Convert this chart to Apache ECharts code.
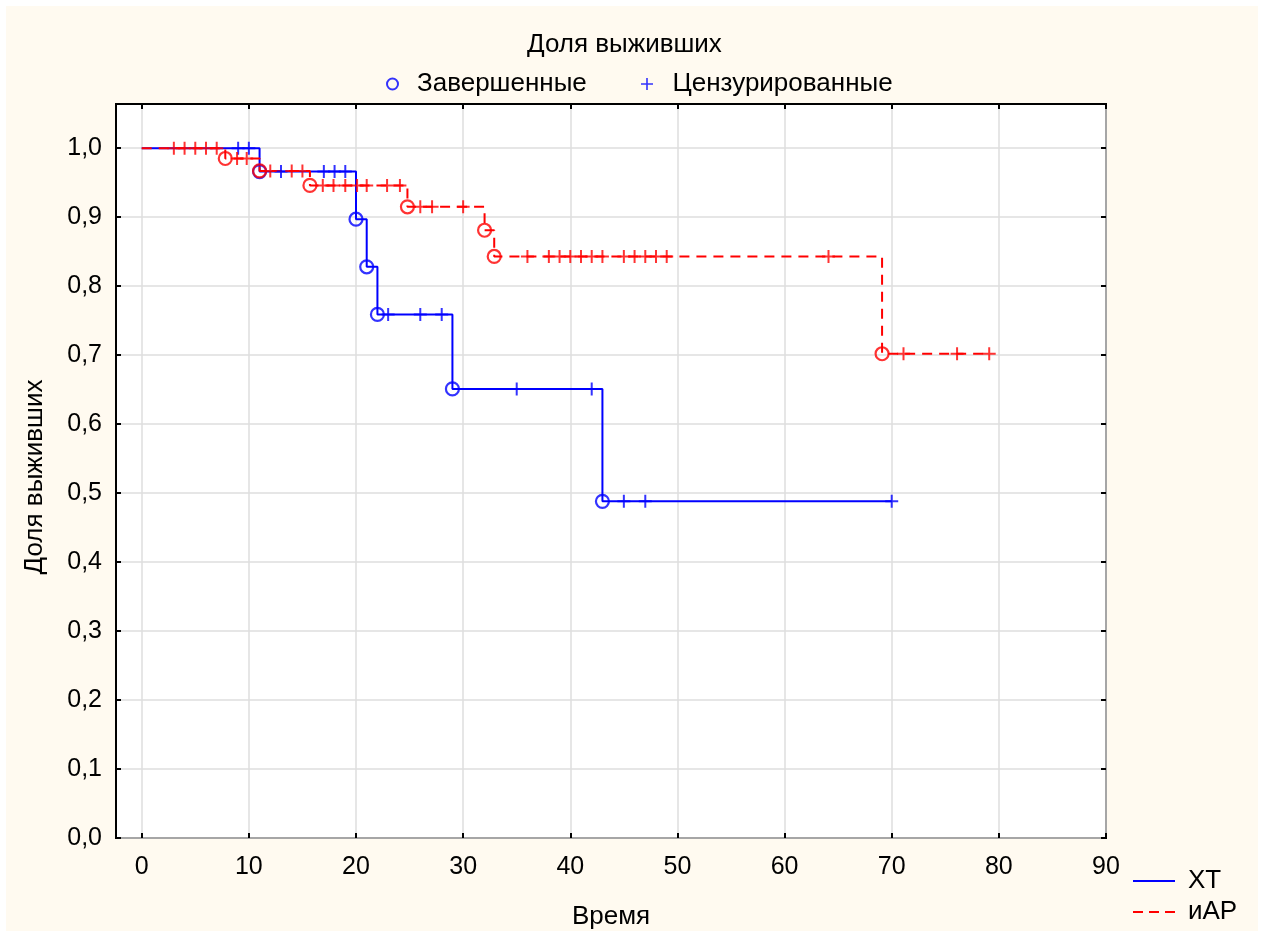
<!DOCTYPE html>
<html>
<head>
<meta charset="utf-8">
<script src="https://cdn.jsdelivr.net/npm/echarts@6/dist/echarts.min.js"></script>
<style>
  html, body { margin: 0; padding: 0; background: #ffffff; }
  #chart { width: 1264px; height: 937px; background: #FFFAF0; box-shadow: inset 0 0 0 6px #ffffff; }
</style>
</head>
<body>
<div id="chart"></div>
<script>
// ---- Data ----
const xTicks = [0, 10, 20, 30, 40, 50, 60, 70, 80, 90];
const yTicks = [0, 0.1, 0.2, 0.3, 0.4, 0.5, 0.6, 0.7, 0.8, 0.9, 1.0];

// ХТ group
const xtEventTimes = [11, 20, 21, 22, 29, 43];
const xtEventSurv  = [0.966, 0.897, 0.828, 0.759, 0.651, 0.488];
const xtCensorTimes = [9, 10, 13, 17, 18, 19, 23, 26, 28, 35, 42, 45, 47, 70];
const xtEnd = 70;

// иАР group
const iarEventTimes = [7.8, 11, 15.7, 24.8, 32, 32.9, 69.1];
const iarEventSurv  = [0.985, 0.967, 0.946, 0.915, 0.881, 0.843, 0.702];
const iarCensorTimes = [3, 4, 5, 6, 7, 8.9, 9.8, 12, 14, 15, 16.9, 17.9, 19, 20.1, 21, 22.9, 24.1,
                        26, 27.1, 30, 36, 38, 39, 40, 41, 42, 43, 45, 46, 47, 48, 49, 64.1, 71.1, 76.1, 79.1];
const iarEnd = 79.1;

// ---- Helpers ----
function survAt(times, survs, t) {
  let s = 1;
  for (let i = 0; i < times.length; i++) { if (times[i] <= t) s = survs[i]; }
  return s;
}
function stepData(times, survs, end) {
  const d = [[0, 1]];
  times.forEach((t, i) => d.push([t, survs[i]]));
  d.push([end, survAt(times, survs, end)]);
  return d;
}
function eventData(times, survs) { return times.map((t, i) => [t, survs[i]]); }
function censorData(cTimes, times, survs) { return cTimes.map(t => [t, survAt(times, survs, t)]); }

const BLUE = '#0000ff', RED = '#ff0000';
const FONT = "'Liberation Sans', Arial, sans-serif";
const crossPath = 'path://M-1,-6.5 L1,-6.5 L1,6.5 L-1,6.5 Z M-6.5,-1 L6.5,-1 L6.5,1 L-6.5,1 Z';
const thinCross = 'path://M-0.8,-6 L0.8,-6 L0.8,6 L-0.8,6 Z M-6,-0.8 L6,-0.8 L6,0.8 L-6,0.8 Z';
const solidIcon = 'path://M0,0 h42 v2.2 h-42 Z M50,1.1';
const dashIcon = 'path://M0,0 h10 v2.2 h-10 Z M16,0 h10 v2.2 h-10 Z M32,0 h10 v2.2 h-10 Z M50,1.1';
const fmtY = v => v.toFixed(1).replace('.', ',');

const chart = echarts.init(document.getElementById('chart'), null, { renderer: 'canvas' });

const legendText = { fontFamily: FONT, fontSize: 26, color: '#000' };

const option = {
  backgroundColor: 'transparent',
  animation: false,
  textStyle: { fontFamily: FONT },
  title: {
    text: 'Доля выживших',
    left: 527,
    top: 32,
    padding: 0,
    textStyle: { fontFamily: FONT, fontSize: 26, fontWeight: 'normal', color: '#000' }
  },
  legend: [
    {
      top: 71, left: 386, padding: 0,
      itemWidth: 39, itemHeight: 11,
      selectedMode: false,
      textStyle: legendText,
      data: [
        { name: 'Завершенные', icon: 'circle',
          itemStyle: { color: 'rgba(0,0,0,0)', borderColor: BLUE, borderWidth: 2 } }
      ]
    },
    {
      top: 71, left: 641, padding: 0,
      itemWidth: 41, itemHeight: 12,
      selectedMode: false,
      textStyle: legendText,
      data: [
        { name: 'Цензурированные', icon: thinCross,
          itemStyle: { color: BLUE, borderWidth: 0 } }
      ]
    },
    {
      orient: 'vertical', left: 1133, top: 868, padding: 0,
      itemWidth: 50, itemHeight: 14, itemGap: 5,
      selectedMode: false,
      textStyle: legendText,
      data: [
        { name: 'ХТ', icon: solidIcon, itemStyle: { color: BLUE, borderWidth: 0 } },
        { name: 'иАР', icon: dashIcon, itemStyle: { color: RED, borderWidth: 0 } }
      ]
    }
  ],
  grid: {
    left: 116, right: 158, top: 104, bottom: 99,
    show: true, backgroundColor: '#ffffff', borderColor: '#000', borderWidth: 2,
    containLabel: false
  },
  xAxis: [
    {
      type: 'value', min: -2.4, max: 90, position: 'bottom',
      name: 'Время', nameLocation: 'middle', nameGap: 66,
      nameTextStyle: { fontFamily: FONT, fontSize: 26, color: '#000' },
      axisLine: { show: false, onZero: false },
      axisTick: { show: true, inside: true, length: 5, customValues: xTicks, lineStyle: { color: '#000', width: 2 } },
      axisLabel: { show: true, customValues: xTicks, margin: 17, fontFamily: FONT, fontSize: 25, color: '#000' },
      splitLine: { show: true, lineStyle: { color: '#dedede', width: 1.5 } }
    },
    {
      type: 'value', min: -2.4, max: 90, position: 'top',
      axisLine: { show: false, onZero: false },
      axisTick: { show: true, inside: true, length: 5, customValues: xTicks, lineStyle: { color: '#000', width: 2 } },
      axisLabel: { show: false },
      splitLine: { show: false }
    }
  ],
  yAxis: [
    {
      type: 'value', min: 0, max: 1.064, position: 'left',
      name: 'Доля выживших', nameLocation: 'middle', nameGap: 68,
      nameTextStyle: { fontFamily: FONT, fontSize: 26, color: '#000', padding: [0, 12, 0, 0] },
      axisLine: { show: false, onZero: false },
      axisTick: { show: true, inside: true, length: 5, customValues: yTicks, lineStyle: { color: '#000', width: 2 } },
      axisLabel: { show: true, customValues: yTicks, margin: 14, fontFamily: FONT, fontSize: 25, color: '#000', formatter: fmtY },
      splitLine: { show: true, lineStyle: { color: '#dedede', width: 1.5 } }
    },
    {
      type: 'value', min: 0, max: 1.064, position: 'right',
      axisLine: { show: false, onZero: false },
      axisTick: { show: true, inside: true, length: 5, customValues: yTicks, lineStyle: { color: '#000', width: 2 } },
      axisLabel: { show: false },
      splitLine: { show: false }
    }
  ],
  series: [
    {
      name: 'ХТ', type: 'line', step: 'end', symbol: 'none', showSymbol: false,
      xAxisIndex: 0, yAxisIndex: 0,
      lineStyle: { color: BLUE, width: 2 }, itemStyle: { color: BLUE },
      data: stepData(xtEventTimes, xtEventSurv, xtEnd), z: 3
    },
    {
      name: 'иАР', type: 'line', step: 'end', symbol: 'none', showSymbol: false,
      xAxisIndex: 0, yAxisIndex: 0,
      lineStyle: { color: RED, width: 2, type: [10, 7] }, itemStyle: { color: RED },
      data: stepData(iarEventTimes, iarEventSurv, iarEnd), z: 3
    },
    {
      name: 'Завершенные', type: 'scatter', symbol: 'circle', symbolSize: 13,
      itemStyle: { color: 'rgba(0,0,0,0)', borderColor: BLUE, borderWidth: 2.2 },
      data: eventData(xtEventTimes, xtEventSurv), z: 4
    },
    {
      name: 'Цензурированные', type: 'scatter', symbol: crossPath, symbolSize: 13,
      itemStyle: { color: BLUE, borderWidth: 0 },
      data: censorData(xtCensorTimes, xtEventTimes, xtEventSurv), z: 4
    },
    {
      name: 'Завершенные', type: 'scatter', symbol: 'circle', symbolSize: 13,
      itemStyle: { color: 'rgba(0,0,0,0)', borderColor: RED, borderWidth: 2.2 },
      data: eventData(iarEventTimes, iarEventSurv), z: 5
    },
    {
      name: 'Цензурированные', type: 'scatter', symbol: crossPath, symbolSize: 13,
      itemStyle: { color: RED, borderWidth: 0 },
      data: censorData(iarCensorTimes, iarEventTimes, iarEventSurv), z: 5
    }
  ]
};
chart.setOption(option);
</script>
</body>
</html>
